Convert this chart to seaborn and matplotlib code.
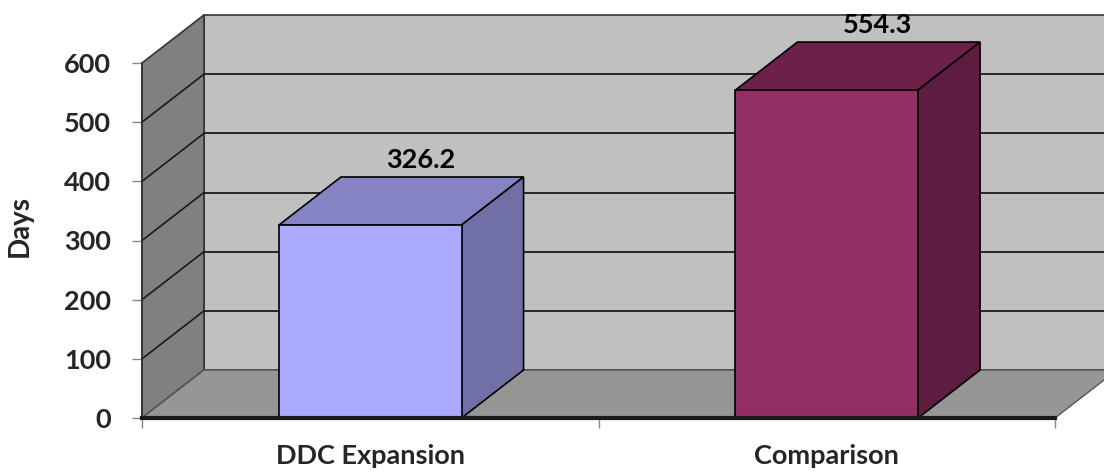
import matplotlib
matplotlib.use("Agg")
import matplotlib.pyplot as plt
import seaborn as sns
import pandas as pd
from matplotlib.patches import Polygon, Rectangle

# ---- data ----
categories = ["DDC Expansion", "Comparison"]
days = [326.2, 554.3]
y_ticks = [0, 100, 200, 300, 400, 500, 600]

# ---- styles ----
front_colors = ["#AAAAFF", "#912F63"]
top_colors = ["#8484C4", "#6D214A"]
side_colors = ["#7070A6", "#5E1C40"]

sns.set_theme(style="white")
plt.rcParams['font.family'] = ['Lato', 'DejaVu Sans']
plt.rcParams['font.weight'] = 'bold'

W, H = 1104, 472
fig = plt.figure(figsize=(W / 100, H / 100), dpi=100)
fig.patch.set_facecolor("white")
ax_l, ax_r, ax_t, ax_b = 142, 1055, 63, 418
ax = fig.add_axes([ax_l / W, (H - ax_b) / H, (ax_r - ax_l) / W, (ax_b - ax_t) / H])
ax.set_facecolor("none")

df = pd.DataFrame({"cat": categories, "days": days})
sns.barplot(data=df, x="cat", y="days", hue="cat", palette=front_colors,
            width=0.4, edgecolor="black", linewidth=1.2, legend=False,
            saturation=1, ax=ax, zorder=5)
bars = sorted([p for p in ax.patches if isinstance(p, Rectangle) and p.get_height() > 0],
              key=lambda p: p.get_x())
ax.set_xlim(-0.5, 1.5)
ax.set_ylim(0, 600)

# depth offset (in data units) for the 3-D look
px_x = (ax_r - ax_l) / 2.0
px_y = (ax_b - ax_t) / 600.0
DX = 62 / px_x
DY = 48 / px_y
XR = 1.9  # back wall runs off the right edge

# back wall
ax.add_patch(Polygon([(-0.5 + DX, DY), (XR, DY), (XR, 600 + DY), (-0.5 + DX, 600 + DY)],
                     closed=True, fc="#C0C0C0", ec="#333333", lw=1.2,
                     clip_on=False, zorder=0.5))
# side wall
ax.add_patch(Polygon([(-0.5, 0), (-0.5, 600), (-0.5 + DX, 600 + DY), (-0.5 + DX, DY)],
                     closed=True, fc="#808080", ec="#333333", lw=1.2,
                     clip_on=False, zorder=0.7))
# gridlines on back wall and side wall
for v in y_ticks[1:-1]:
    ax.plot([-0.5 + DX, XR], [v + DY, v + DY], color="#1a1a1a", lw=1.3,
            clip_on=False, zorder=0.6)
    ax.plot([-0.5, -0.5 + DX], [v, v + DY], color="#1a1a1a", lw=1.2,
            clip_on=False, zorder=0.8)
# floor
ax.add_patch(Polygon([(-0.5, 0), (1.5, 0), (1.5 + DX, DY), (-0.5 + DX, DY)],
                     closed=True, fc="#969696", ec="#555555", lw=1.0,
                     clip_on=False, zorder=0.9))

# 3-D faces of the bars
for i, p in enumerate(bars):
    x0, w, h = p.get_x(), p.get_width(), p.get_height()
    ax.add_patch(Polygon([(x0, h), (x0 + w, h), (x0 + w + DX, h + DY), (x0 + DX, h + DY)],
                         closed=True, fc=top_colors[i], ec="black", lw=1.2,
                         clip_on=False, zorder=4))
    ax.add_patch(Polygon([(x0 + w, 0), (x0 + w, h), (x0 + w + DX, h + DY), (x0 + w + DX, DY)],
                         closed=True, fc=side_colors[i], ec="black", lw=1.2,
                         clip_on=False, zorder=4))
    ax.text(x0 + w / 2 + 0.11, h + DY + 28, f"{days[i]}", ha="center", va="center",
            fontsize=19.5, fontweight="bold", color="black", zorder=6, clip_on=False)

# axes / ticks
for s in ["top", "right"]:
    ax.spines[s].set_visible(False)
ax.spines["left"].set_color("#333333")
ax.spines["left"].set_linewidth(1.2)
ax.spines["bottom"].set_color("#1a1a1a")
ax.spines["bottom"].set_linewidth(3)
ax.spines["bottom"].set_zorder(6)

ax.set_yticks(y_ticks)
ax.set_yticklabels([str(t) for t in y_ticks])
ax.tick_params(axis="y", which="major", left=True, length=7.2, width=1,
               color="#888888", pad=15, labelsize=19.5)
ax.set_xticks([0, 1])
ax.set_xticklabels(categories)
ax.set_xticks([-0.5, 0.5, 1.5], minor=True)
ax.tick_params(axis="x", which="major", length=0, pad=19, labelsize=19.5)
ax.tick_params(axis="x", which="minor", bottom=True, length=7.2, width=1, color="#888888")
for lab in ax.get_xticklabels() + ax.get_yticklabels():
    lab.set_fontweight("bold")

ax.set_xlabel("")
ax.set_ylabel("Days", fontsize=20, fontweight="bold")
ax.yaxis.set_label_coords((33 - ax_l) / (ax_r - ax_l), (ax_b - 226) / (ax_b - ax_t))

fig.savefig("out.png", dpi=100, facecolor="white")
